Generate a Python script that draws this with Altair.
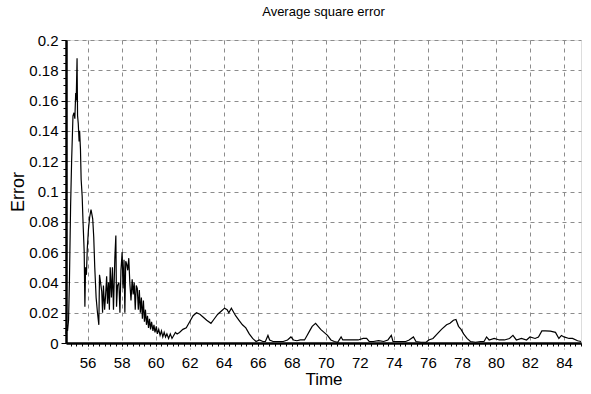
import altair as alt
import pandas as pd

# ---- data ----
t_vals = [54.73, 54.78, 54.82, 54.88, 54.93, 55.00, 55.06, 55.14, 55.20, 55.25,
          55.30, 55.33, 55.38, 55.41, 55.45, 55.50, 55.53, 55.58, 55.62, 55.68,
          55.73, 55.80, 55.84, 55.88, 55.93, 55.98, 56.05, 56.12, 56.20, 56.25,
          56.30, 56.36, 56.42, 56.50, 56.58, 56.66, 56.70, 56.76, 56.83, 56.88,
          56.93, 57.00, 57.06, 57.12, 57.17, 57.23, 57.28, 57.33, 57.40, 57.46,
          57.52, 57.60, 57.66, 57.70, 57.76, 57.84, 57.90, 57.96, 58.03, 58.08,
          58.14, 58.19, 58.24, 58.30, 58.36, 58.42, 58.48, 58.55, 58.62, 58.68,
          58.74, 58.80, 58.86, 58.92, 58.98, 59.04, 59.10, 59.16, 59.22, 59.28,
          59.34, 59.40, 59.46, 59.52, 59.58, 59.64, 59.70, 59.76, 59.84, 59.90,
          59.96, 60.04, 60.10, 60.18, 60.26, 60.34, 60.42, 60.50, 60.58, 60.66,
          60.76, 60.86, 60.96, 61.06, 61.16, 61.26, 61.40, 61.60, 61.80, 62.00,
          62.20, 62.40, 62.60, 62.80, 63.00, 63.25, 63.45, 63.65, 63.85, 64.05,
          64.20, 64.30, 64.45, 64.55, 64.70, 64.90, 65.10, 65.30, 65.50, 65.70,
          65.90, 66.10, 66.30, 66.45, 66.60, 66.70, 66.90, 67.20, 67.50, 67.75,
          67.95, 68.10, 68.30, 68.50, 68.75, 68.90, 69.05, 69.20, 69.40, 69.55,
          69.70, 69.90, 70.10, 70.30, 70.50, 70.70, 70.90, 71.00, 71.30, 71.60,
          71.90, 72.20, 72.40, 72.55, 72.80, 73.10, 73.40, 73.65, 73.85, 73.95,
          74.30, 74.70, 74.90, 75.15, 75.30, 75.60, 75.90, 76.05, 76.30, 76.55,
          76.80, 77.10, 77.30, 77.50, 77.65, 77.80, 77.95, 78.10, 78.30, 78.50,
          78.80, 79.10, 79.30, 79.45, 79.60, 79.90, 80.20, 80.50, 80.80, 81.00,
          81.20, 81.50, 81.80, 82.00, 82.30, 82.50, 82.70, 82.90, 83.20, 83.50,
          83.70, 83.85, 84.00, 84.30, 84.50, 84.80, 85.00]
err_vals = [0.006, 0.012, 0.008, 0.015, 0.040, 0.090, 0.120, 0.150, 0.152, 0.148,
            0.165, 0.160, 0.188, 0.150, 0.145, 0.133, 0.140, 0.128, 0.108, 0.097,
            0.080, 0.060, 0.024, 0.050, 0.045, 0.062, 0.075, 0.083, 0.088, 0.085,
            0.082, 0.070, 0.050, 0.030, 0.020, 0.012, 0.045, 0.040, 0.034, 0.020,
            0.038, 0.022, 0.032, 0.044, 0.026, 0.040, 0.022, 0.050, 0.030, 0.050,
            0.022, 0.056, 0.071, 0.024, 0.038, 0.040, 0.020, 0.048, 0.060, 0.036,
            0.055, 0.020, 0.054, 0.052, 0.048, 0.056, 0.040, 0.028, 0.042, 0.032,
            0.040, 0.022, 0.038, 0.036, 0.022, 0.035, 0.020, 0.030, 0.016, 0.028,
            0.014, 0.022, 0.012, 0.018, 0.010, 0.016, 0.009, 0.014, 0.008, 0.012,
            0.007, 0.011, 0.006, 0.009, 0.005, 0.008, 0.004, 0.007, 0.004, 0.006,
            0.003, 0.006, 0.003, 0.005, 0.007, 0.006, 0.007, 0.009, 0.010, 0.014,
            0.018, 0.020, 0.019, 0.017, 0.015, 0.013, 0.016, 0.019, 0.021, 0.023,
            0.022, 0.020, 0.023, 0.021, 0.018, 0.015, 0.012, 0.010, 0.006, 0.003,
            0.001, 0.002, 0.001, 0.001, 0.005, 0.002, 0.001, 0.001, 0.001, 0.002,
            0.004, 0.002, 0.0015, 0.002, 0.002, 0.005, 0.008, 0.011, 0.013, 0.011,
            0.009, 0.007, 0.005, 0.002, 0.001, 0.0005, 0.004, 0.002, 0.002, 0.002,
            0.002, 0.003, 0.003, 0.001, 0.001, 0.0015, 0.001, 0.002, 0.005, 0.001,
            0.001, 0.001, 0.002, 0.004, 0.001, 0.0005, 0.0005, 0.002, 0.003, 0.006,
            0.009, 0.012, 0.013, 0.015, 0.0155, 0.011, 0.009, 0.006, 0.003, 0.001,
            0.0005, 0.001, 0.001, 0.004, 0.002, 0.003, 0.002, 0.002, 0.003, 0.005,
            0.002, 0.003, 0.002, 0.004, 0.003, 0.004, 0.008, 0.008, 0.0078, 0.007,
            0.003, 0.005, 0.004, 0.003, 0.003, 0.0015, 0.001]

x_ticks = [56, 58, 60, 62, 64, 66, 68, 70, 72, 74, 76, 78, 80, 82, 84]
y_ticks = [0, 0.02, 0.04, 0.06, 0.08, 0.1, 0.12, 0.14, 0.16, 0.18, 0.2]
x_minor = [55 + i / 3 for i in range(0, 91)]
y_minor = [i * 0.005 for i in range(0, 41)]

df = pd.DataFrame({"Time": t_vals, "Error": err_vals})

FONT = "Liberation Sans"
xscale = alt.Scale(domain=[54.73, 85], nice=False, zero=False)
yscale = alt.Scale(domain=[0, 0.2], nice=False)

main = alt.Chart(df).mark_line(color="black", strokeWidth=1.2).encode(
    x=alt.X("Time:Q", scale=xscale, axis=alt.Axis(
        orient="bottom", values=x_ticks, format="d", grid=True,
        gridColor="#8c8c8c", gridDash=[4, 4], gridWidth=1,
        domainColor="black", domainWidth=2.5, tickColor="#8c8c8c",
        tickSize=6, tickDash=[3, 2], labelFont=FONT, labelFontSize=15,
        labelColor="black", labelPadding=6, title="Time", titleFont=FONT,
        titleFontSize=17, titleFontWeight="normal", titleColor="black",
        titlePadding=1)),
    y=alt.Y("Error:Q", scale=yscale, axis=alt.Axis(
        orient="left", values=y_ticks, labelExpr="format(datum.value, '~g')",
        grid=True, gridColor="#8c8c8c", gridDash=[4, 4], gridWidth=1,
        domainColor="black", domainWidth=2.5, tickColor="black", tickSize=5,
        labelFont=FONT, labelFontSize=15, labelColor="black", labelPadding=3,
        title="Error", titleFont=FONT, titleFontSize=18,
        titleFontWeight="normal", titleColor="black", titlePadding=1)),
)

minor = alt.Chart(df).mark_line(opacity=0).encode(
    x=alt.X("Time:Q", scale=xscale, axis=alt.Axis(
        orient="bottom", values=x_minor, labels=False, grid=False,
        domain=False, tickColor="black", tickSize=3, title=None)),
    y=alt.Y("Error:Q", scale=yscale, axis=alt.Axis(
        orient="left", values=y_minor, labels=False, grid=False,
        domain=False, tickColor="black", tickSize=3, title=None)),
)

chart = alt.layer(main, minor).resolve_axis(x="independent", y="independent").properties(
    width=515, height=303,
    title=alt.TitleParams("Average square error", font=FONT, fontSize=13,
                          fontWeight="normal", color="black", anchor="middle",
                          offset=14),
    autosize=alt.AutoSizeParams(type="none"),
    padding={"left": 66, "top": 40, "right": 10, "bottom": 51},
).configure_view(stroke="#555555", strokeWidth=1.5).configure(background="white")

chart.save("out.html", embed_options={"renderer": "svg", "actions": False})
